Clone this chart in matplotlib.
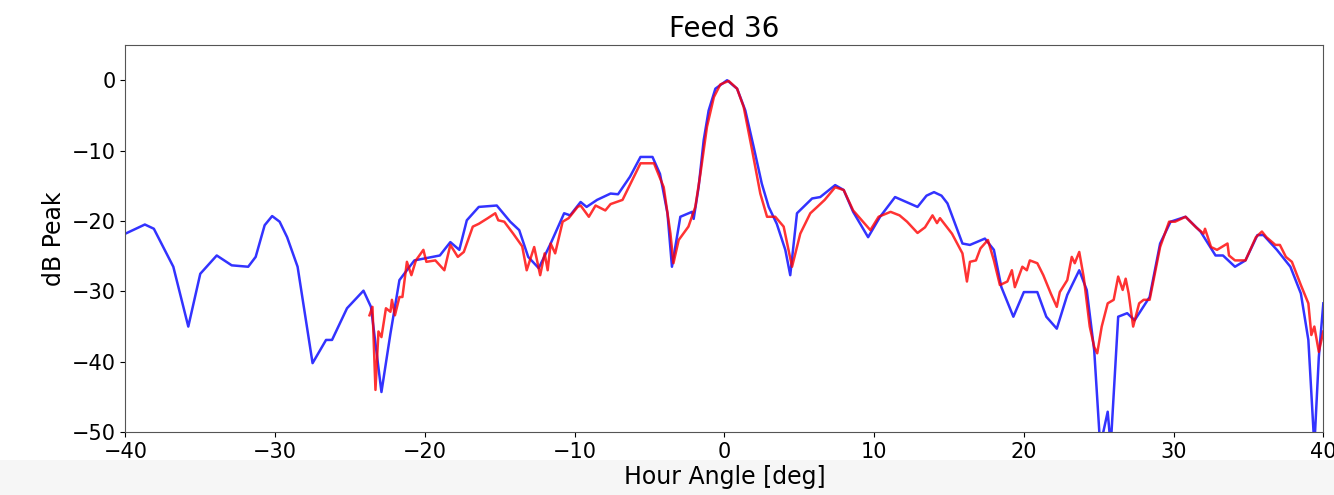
import numpy as np
import matplotlib
matplotlib.use('Agg')
import matplotlib.pyplot as plt
from matplotlib.patches import Rectangle

# blue trace (model), hour angle [deg] vs dB peak
blue_ha = [-40.0, -38.7, -38.1, -36.8, -35.8, -35.0, -33.9, -32.9, -31.8, -31.3,
           -30.7, -30.2, -29.7, -29.2, -28.5, -27.5, -26.6, -26.2, -25.2, -24.1,
           -23.6, -22.9, -22.3, -21.7, -20.7, -19.0, -18.3, -17.7, -17.2, -16.4,
           -15.2, -14.3, -13.7, -13.1, -12.4, -11.6, -10.7, -10.3, -9.6, -9.2,
           -8.5, -7.6, -7.1, -6.3, -5.6, -4.8, -4.3, -3.8, -3.5, -2.94,
           -2.16, -2.05, -1.72, -1.38, -1.05, -0.6, 0.18, 0.85, 1.4, 1.96,
           2.5, 2.96, 3.5, 4.07, 4.4, 4.85, 5.86, 6.4, 7.4, 7.97,
           8.6, 9.6, 10.4, 11.4, 12.9, 13.5, 14.0, 14.5, 14.9, 15.9,
           16.4, 17.4, 18.0, 18.5, 19.3, 20.0, 20.9, 21.5, 22.2, 22.9,
           23.7, 24.2, 24.7, 25.1, 25.6, 25.8, 26.3, 26.9, 27.4, 28.4,
           29.1, 29.8, 30.8, 31.8, 32.8, 33.3, 34.1, 34.8, 35.6, 36.0,
           36.9, 37.8, 38.5, 39.0, 39.4, 39.7, 40.0]
blue_db = [-21.8, -20.5, -21.1, -26.5, -35.0, -27.5, -24.9, -26.3, -26.5, -25.1,
           -20.6, -19.3, -20.1, -22.3, -26.5, -40.2, -36.9, -36.9, -32.4, -29.9,
           -32.2, -44.3, -36.0, -28.4, -25.6, -24.9, -23.0, -24.1, -19.9, -18.0,
           -17.8, -20.1, -21.3, -25.1, -26.7, -23.2, -18.9, -19.2, -17.3, -18.0,
           -17.0, -16.1, -16.2, -13.7, -10.9, -10.9, -13.3, -18.9, -26.5, -19.4,
           -18.7, -19.7, -15.2, -8.5, -4.3, -1.2, 0.0, -1.2, -4.3, -9.5,
           -14.7, -18.0, -20.4, -24.1, -27.7, -18.9, -16.8, -16.6, -14.9, -15.6,
           -18.7, -22.3, -19.4, -16.6, -18.0, -16.4, -15.9, -16.4, -17.5, -23.2,
           -23.4, -22.5, -24.1, -29.4, -33.6, -30.1, -30.1, -33.6, -35.3, -30.5,
           -27.0, -29.8, -38.4, -52.0, -47.1, -52.0, -33.6, -33.1, -34.1, -30.8,
           -23.2, -20.1, -19.4, -21.5, -24.9, -24.9, -26.5, -25.6, -22.0, -22.0,
           -24.1, -26.5, -30.3, -36.9, -52.0, -39.3, -31.7]

# red trace (measured)
red_ha = [-23.7, -23.5, -23.3, -23.1, -22.9, -22.6, -22.3, -22.2, -22.0, -21.7,
          -21.5, -21.2, -20.9, -20.6, -20.1, -19.9, -19.3, -18.7, -18.3, -17.8,
          -17.4, -16.8, -16.4, -15.8, -15.3, -15.1, -14.7, -14.1, -13.5, -13.2,
          -12.7, -12.3, -12.0, -11.8, -11.6, -11.3, -10.8, -10.4, -9.8, -9.6,
          -9.05, -8.6, -7.95, -7.6, -6.8, -6.2, -5.6, -4.7, -4.05, -3.6,
          -3.4, -3.05, -2.4, -1.94, -1.6, -1.16, -0.7, -0.27, 0.29, 0.85,
          1.29, 1.85, 2.4, 2.85, 3.4, 3.96, 4.52, 5.07, 5.74, 6.2,
          6.7, 7.4, 7.97, 8.6, 9.75, 10.3, 11.1, 11.7, 12.2, 12.9,
          13.4, 13.9, 14.2, 14.4, 15.2, 15.9, 16.2, 16.4, 16.8, 17.1,
          17.6, 18.0, 18.4, 18.9, 19.2, 19.4, 19.9, 20.2, 20.4, 20.9,
          21.3, 21.8, 22.2, 22.4, 22.9, 23.2, 23.4, 23.7, 24.0, 24.4,
          24.7, 24.9, 25.2, 25.6, 26.0, 26.3, 26.6, 26.8, 27.0, 27.3,
          27.7, 28.0, 28.4, 29.1, 29.7, 30.1, 30.8, 31.5, 32.0, 32.1,
          32.5, 32.9, 33.6, 33.7, 34.1, 34.8, 35.5, 35.9, 36.2, 36.8,
          37.1, 37.5, 37.9, 38.5, 39.0, 39.2, 39.4, 39.7, 40.0]
red_db = [-33.4, -32.2, -44.0, -35.7, -36.5, -32.4, -32.9, -31.2, -33.4, -30.8,
          -30.8, -25.8, -27.7, -25.6, -24.1, -25.8, -25.6, -27.0, -23.4, -25.1,
          -24.4, -20.8, -20.4, -19.6, -18.9, -19.9, -20.1, -21.8, -23.6, -27.0,
          -23.7, -27.7, -24.6, -27.0, -23.2, -24.6, -20.1, -19.6, -18.0, -17.8,
          -19.4, -17.8, -18.5, -17.6, -17.0, -14.4, -11.8, -11.8, -15.2, -21.8,
          -26.0, -22.7, -20.8, -18.0, -13.3, -6.6, -2.4, -0.6, -0.1, -1.2,
          -3.8, -9.9, -16.1, -19.4, -19.4, -20.8, -26.5, -21.8, -18.9, -18.0,
          -17.0, -15.2, -15.6, -18.5, -21.3, -19.4, -18.7, -19.2, -20.1, -21.7,
          -20.9, -19.2, -20.3, -19.6, -21.8, -24.6, -28.6, -25.8, -25.6, -23.9,
          -22.7, -25.6, -29.1, -28.6, -27.0, -29.4, -26.5, -27.0, -25.6, -26.0,
          -27.7, -30.3, -32.2, -30.1, -28.4, -25.1, -26.0, -24.4, -28.0, -35.0,
          -37.9, -38.8, -35.0, -31.7, -31.2, -27.9, -29.8, -28.2, -30.3, -35.0,
          -31.7, -31.2, -31.2, -23.7, -20.1, -20.1, -19.4, -20.9, -21.8, -21.1,
          -23.7, -24.1, -23.2, -24.9, -25.6, -25.6, -22.3, -21.5, -22.3, -23.4,
          -23.4, -25.1, -25.8, -29.1, -31.7, -36.2, -35.0, -38.6, -35.7]

xticks = [-40, -30, -20, -10, 0, 10, 20, 30, 40]
yticks = [0, -10, -20, -30, -40, -50]

fig = plt.figure(figsize=(13.34, 4.95), dpi=100)
# faint grey strip at the bottom of the screenshot
fig.patches.append(Rectangle((0, 0), 1, 0.07, transform=fig.transFigure,
                             facecolor='#f6f6f6', edgecolor='none', zorder=-1))
ax = fig.add_axes([0.094, 0.127, 0.898, 0.782])

ax.plot(blue_ha, blue_db, color='b', alpha=0.8, lw=1.8)
ax.plot(red_ha, red_db, color='r', alpha=0.8, lw=1.8)

ax.set_xlim(-40, 40)
ax.set_ylim(-50, 5)
ax.set_xticks(xticks)
ax.set_yticks(yticks)
ax.tick_params(labelsize=15)
for s in ax.spines.values():
    s.set_color('#555555')
ax.set_xlabel('Hour Angle [deg]', fontsize=17, labelpad=2)
ax.set_ylabel('dB Peak', fontsize=17)
ax.set_title('Feed 36', fontsize=20)

fig.savefig('out.png', dpi=100)
